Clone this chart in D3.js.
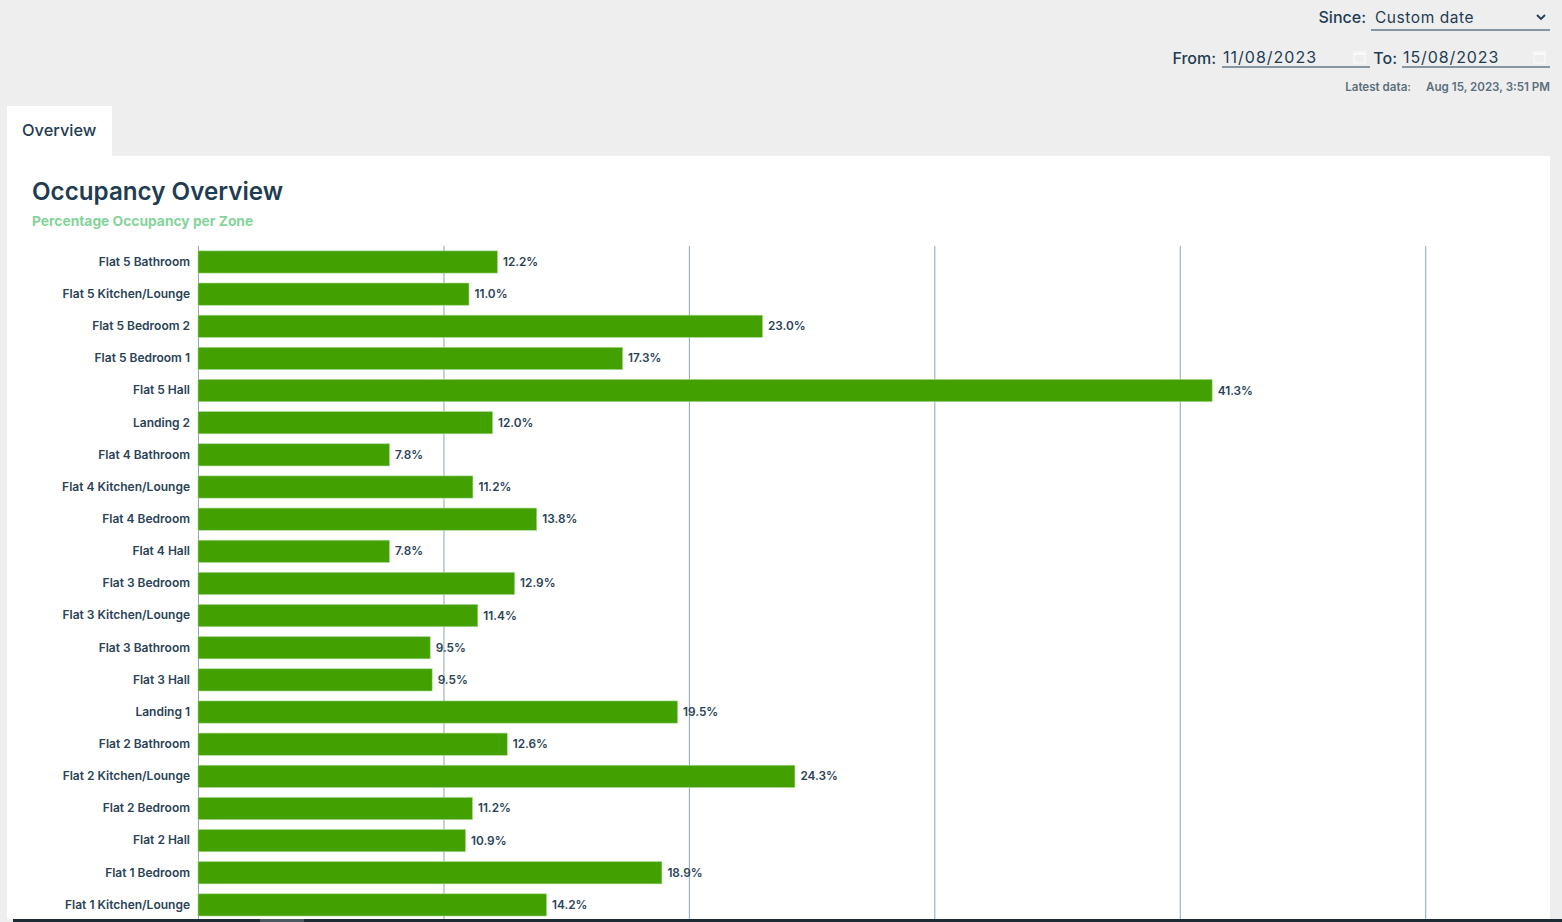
<!DOCTYPE html>
<html>
<head>
<meta charset="utf-8">
<title>Occupancy Overview</title>
<script src="https://cdn.jsdelivr.net/npm/d3@7"></script>
<style>
  html, body { margin: 0; padding: 0; background: #eeeeee; overflow: hidden; }
  text { font-family: Inter, sans-serif; fill: #1f3d52; }
  .zone-axis text { font-size: 12px; font-weight: 600; fill: #2a4357; }
  .zone-axis .domain, .grid .domain { display: none; }
  .grid line { stroke: #8ea6b5; stroke-width: 1; }
  .value { font-size: 11.8px; font-weight: 600; fill: #2a4357; }
</style>
</head>
<body>
<svg id="chart" width="1562" height="922"></svg>
<script>
var zones = ['Flat 5 Bathroom', 'Flat 5 Kitchen/Lounge', 'Flat 5 Bedroom 2', 'Flat 5 Bedroom 1', 'Flat 5 Hall',
  'Landing 2', 'Flat 4 Bathroom', 'Flat 4 Kitchen/Lounge', 'Flat 4 Bedroom', 'Flat 4 Hall', 'Flat 3 Bedroom',
  'Flat 3 Kitchen/Lounge', 'Flat 3 Bathroom', 'Flat 3 Hall', 'Landing 1', 'Flat 2 Bathroom',
  'Flat 2 Kitchen/Lounge', 'Flat 2 Bedroom', 'Flat 2 Hall', 'Flat 1 Bedroom', 'Flat 1 Kitchen/Lounge'];
// percent occupancy
var occupancy = [12.2, 11.04, 23.0, 17.3, 41.32, 12.0, 7.8, 11.2, 13.8, 7.8, 12.9,
  11.4, 9.46, 9.54, 19.54, 12.6, 24.32, 11.18, 10.9, 18.9, 14.2];
var gridTicks = [0, 10, 20, 30, 40, 50];

var svg = d3.select('#chart');
var greenBar = '#42a000';

// page panels
svg.append('rect').attr('x', 7).attr('y', 106).attr('width', 105).attr('height', 60).attr('fill', '#fff');
svg.append('rect').attr('x', 7).attr('y', 156).attr('width', 1543).attr('height', 766).attr('fill', '#fff');

// controls at top right
function label(x, y, str, size, anchor, weight, color) {
  return svg.append('text').attr('x', x).attr('y', y).text(str)
    .attr('text-anchor', anchor || 'start')
    .style('font-size', size + 'px')
    .style('font-weight', weight || 400)
    .style('fill', color || '#1f3d52');
}

function underline(x1, x2, y) {
  svg.append('line').attr('x1', x1).attr('x2', x2).attr('y1', y).attr('y2', y)
    .attr('stroke', '#1f3d52').attr('stroke-width', 1);
}

function calendar(x, y) {
  svg.append('rect').attr('x', x).attr('y', y).attr('width', 11).attr('height', 11)
    .attr('fill', 'none').attr('stroke', '#fafafa').attr('stroke-width', 1.2);
  svg.append('line').attr('x1', x).attr('x2', x + 11).attr('y1', y + 2).attr('y2', y + 2)
    .attr('stroke', '#fafafa').attr('stroke-width', 2);
}

label(1366, 23, 'Since:', 16, 'end', 500);
label(1375, 23, 'Custom date', 15.5, 'start', 400).style('letter-spacing', '0.55px');
svg.append('path').attr('d', 'M1537 15 l4 4 l4 -4').attr('fill', 'none')
  .attr('stroke', '#1f3d52').attr('stroke-width', 1.8);
underline(1371, 1550, 30);

label(1216, 64, 'From:', 16, 'end', 500);
label(1223, 63, '11/08/2023', 16, 'start', 400).style('letter-spacing', '1px');
calendar(1354, 52);
underline(1222, 1370, 67);
label(1397, 64, 'To:', 16, 'end', 500);
label(1403, 63, '15/08/2023', 16, 'start', 400).style('letter-spacing', '0.9px');
calendar(1534, 52);
underline(1402, 1550, 67);

label(1411, 91, 'Latest data:', 11.6, 'end', 600, '#5b6f7c');
label(1550, 91, 'Aug 15, 2023, 3:51 PM', 11.6, 'end', 600, '#5b6f7c');

label(22, 136, 'Overview', 16.4, 'start', 500);
label(32, 200, 'Occupancy Overview', 24.2, 'start', 600);
label(32, 226, 'Percentage Occupancy per Zone', 13.8, 'start', 700, '#85d49b');

// scales
var x = d3.scaleLinear().domain([0, 50]).range([198, 1425.2]);
var y = d3.scaleBand().domain(zones).range([245.9, 921]).paddingInner(0.31).paddingOuter(0.155);

// gridlines
var grid = svg.append('g').attr('class', 'grid').attr('transform', 'translate(0,246)')
  .call(d3.axisBottom(x).tickValues(gridTicks).tickSize(673).tickFormat(''));

// bars
svg.append('g').selectAll('rect').data(zones).join('rect')
  .attr('x', x(0))
  .attr('y', function(d) { return y(d); })
  .attr('width', function(d, i) { return x(occupancy[i]) - x(0); })
  .attr('height', y.bandwidth())
  .attr('fill', greenBar)
  .attr('stroke', '#a5d68c')
  .attr('stroke-width', 0.6);

// value labels
svg.append('g').selectAll('text').data(zones).join('text')
  .attr('class', 'value')
  .attr('x', function(d, i) { return x(occupancy[i]) + 5.5; })
  .attr('y', function(d) { return y(d) + y.bandwidth() / 2 + 4; })
  .text(function(d, i) { return occupancy[i].toFixed(1) + '%'; });

// zone labels
var zoneAxis = svg.append('g').attr('class', 'zone-axis').attr('transform', 'translate(198,0)')
  .call(d3.axisLeft(y).tickSize(0).tickPadding(8));
zoneAxis.selectAll('text').style('font-family', 'Inter, sans-serif');

// bottom edge of the window
svg.append('rect').attr('x', 0).attr('y', 919).attr('width', 1562).attr('height', 3).attr('fill', '#1d2c34');
svg.append('rect').attr('x', 260).attr('y', 919).attr('width', 44).attr('height', 3).attr('fill', '#4b5a62');
svg.append('rect').attr('x', 0).attr('y', 919).attr('width', 13).attr('height', 3).attr('fill', '#eeeeee');
</script>
</body>
</html>
